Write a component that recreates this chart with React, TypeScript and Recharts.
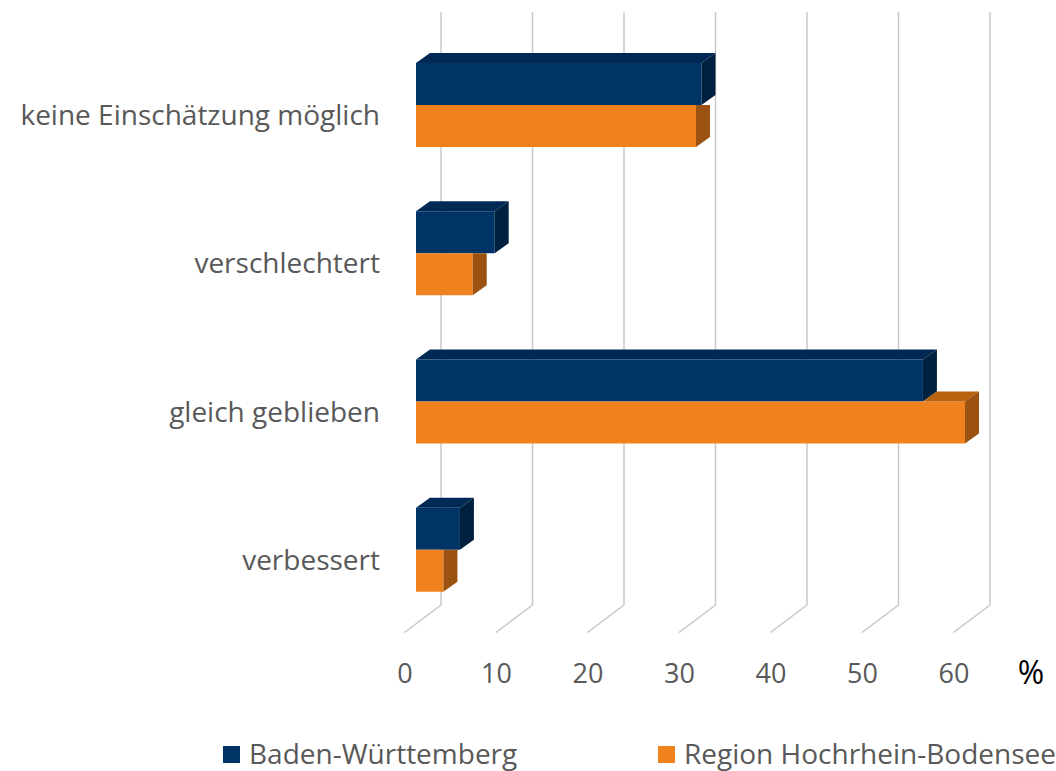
import React from "react";
import { BarChart, Bar, XAxis, YAxis, CartesianGrid, Legend } from "recharts";

// Werte (in %)
const categories = [
  "keine Einschätzung möglich",
  "verschlechtert",
  "gleich geblieben",
  "verbessert",
];
const bwValues = [31.2, 8.6, 55.4, 4.8];
const regionValues = [30.6, 6.2, 60, 3.0];
const xTicks = [0, 10, 20, 30, 40, 50, 60];
const seriesNames = ["Baden-Württemberg", "Region Hochrhein-Bodensee"];

const data = categories.map((cat, i) => ({
  cat,
  bw: bwValues[i],
  rg: regionValues[i],
}));

const FONT = "'Open Sans', sans-serif";
const TEXT = "#595959";
const GRID = "#C6C6C6";

const NAVY = { front: "#003366", top: "#002A55", side: "#00203F" };
const ORANGE = { front: "#F0821E", top: "#B8620F", side: "#9C5312" };

// 3D depth offset of the bars
const DX = 14;
const DY = 10;

function NavyBar(props: any) {
  const { x, y, width, height } = props;
  const xe = x + width;
  const yb = y + height;
  return (
    <g>
      <rect x={x} y={y} width={width} height={height} fill={NAVY.front} />
      <polygon
        points={`${x},${y} ${x + DX},${y - DY} ${xe + DX},${y - DY} ${xe},${y}`}
        fill={NAVY.top}
      />
      <polygon
        points={`${xe},${y} ${xe + DX},${y - DY} ${xe + DX},${yb - DY} ${xe},${yb}`}
        fill={NAVY.side}
      />
    </g>
  );
}

// orange sits behind/below the navy bar, so hide the faces the navy bar covers
function OrangeBar(props: any) {
  const { x, y, width, height, payload } = props;
  const xo = x + width;
  const xe = payload.rg > 0 ? x + (width * payload.bw) / payload.rg : x;
  const yb = y + height;
  return (
    <g>
      <rect x={x} y={y} width={width} height={height} fill={ORANGE.front} />
      {xo > xe ? (
        <>
          <polygon
            points={`${xe},${y} ${xe + DX},${y - DY} ${xo + DX},${y - DY} ${xo},${y}`}
            fill={ORANGE.top}
          />
          <polygon
            points={`${xo},${y} ${xo + DX},${y - DY} ${xo + DX},${yb - DY} ${xo},${yb}`}
            fill={ORANGE.side}
          />
        </>
      ) : (
        <polygon
          points={`${xo},${y} ${xo + DX},${y} ${xo + DX},${yb - DY} ${xo},${yb}`}
          fill={ORANGE.side}
        />
      )}
    </g>
  );
}

// back wall line + floor diagonal for each x tick
function gridLine(props: any) {
  const { x1, y1, y2 } = props;
  const bx = x1 + 25;
  return (
    <g key={props.key}>
      <line x1={bx} y1={y1 - 19} x2={bx} y2={y2 - 19} stroke={GRID} strokeWidth={1.4} />
      <line x1={bx} y1={y2 - 19} x2={x1 - 11.5} y2={y2 + 8.5} stroke={GRID} strokeWidth={1.4} />
    </g>
  );
}

function CategoryTick(props: any) {
  const { x, y, payload } = props;
  return (
    <text x={x - 36} y={y + 20} textAnchor="end" fill={TEXT} fontSize={28} fontFamily={FONT}>
      {payload.value}
    </text>
  );
}

function ValueTick(props: any) {
  const { x, y, payload } = props;
  return (
    <text x={x - 11} y={y + 59} textAnchor="middle" fill={TEXT} fontSize={27} fontFamily={FONT}>
      {payload.value}
    </text>
  );
}

function LegendContent() {
  const items = [
    { name: seriesNames[0], color: NAVY.front, left: 223 },
    { name: seriesNames[1], color: ORANGE.front, left: 658 },
  ];
  return (
    <div style={{ position: "relative", width: 1056, height: 40 }}>
      {items.map((it) => (
        <div key={it.name}>
          <div
            style={{
              position: "absolute",
              left: it.left,
              top: 15,
              width: 17,
              height: 17,
              background: it.color,
            }}
          />
          <div
            style={{
              position: "absolute",
              left: it.left + 26,
              top: 8,
              fontSize: 28,
              lineHeight: "28px",
              fontFamily: FONT,
              color: TEXT,
              whiteSpace: "nowrap",
            }}
          >
            {it.name}
          </div>
        </div>
      ))}
    </div>
  );
}

export default function App() {
  return (
    <div style={{ position: "absolute", left: 0, top: 0, width: 1056, height: 771, background: "#fff" }}>
      <BarChart
        width={1056}
        height={771}
        data={data}
        layout="vertical"
        margin={{ top: 31, right: 91, left: 0, bottom: 0 }}
        barSize={42}
        barGap={0}
      >
        <CartesianGrid horizontal={false} vertical={gridLine} stroke={GRID} />
        <XAxis
          type="number"
          domain={[0, 60]}
          ticks={xTicks}
          height={107}
          axisLine={false}
          tickLine={false}
          tickSize={0}
          tickMargin={0}
          tick={<ValueTick />}
          label={{
            value: "%",
            content: (p: any) => (
              <text
                x={p.viewBox.x + p.viewBox.width + 66}
                y={p.viewBox.y + 60}
                textAnchor="middle"
                fill="#000"
                fontSize={32}
                fontFamily={FONT}
              >
                %
              </text>
            ),
          }}
        />
        <YAxis
          type="category"
          dataKey="cat"
          width={416}
          axisLine={false}
          tickLine={false}
          tickSize={0}
          tickMargin={0}
          tick={<CategoryTick />}
        />
        <Legend verticalAlign="bottom" content={<LegendContent />} wrapperStyle={{ left: 0, width: 1056 }} />
        <Bar dataKey="bw" name={seriesNames[0]} fill={NAVY.front} shape={NavyBar} isAnimationActive={false} />
        <Bar dataKey="rg" name={seriesNames[1]} fill={ORANGE.front} shape={OrangeBar} isAnimationActive={false} />
      </BarChart>
    </div>
  );
}
